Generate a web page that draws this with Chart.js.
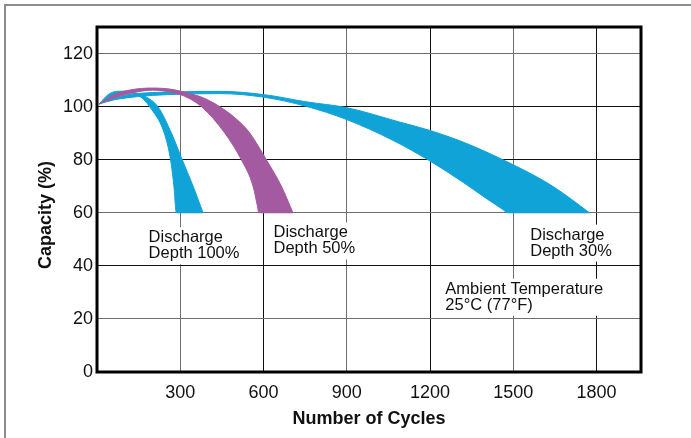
<!DOCTYPE html>
<html>
<head>
<meta charset="utf-8">
<script src="https://cdn.jsdelivr.net/npm/chart.js@4.4.0/dist/chart.umd.min.js"></script>
<style>
  html, body { margin: 0; padding: 0; background: #fff; }
  body { width: 691px; height: 438px; overflow: hidden; position: relative; }
  #frame { position: absolute; left: 4px; top: 4px; width: 900px; height: 900px; border: 2px solid #8c8c8c; }
  #wrap { position: absolute; left: 0; top: 0; width: 691px; height: 438px; }
</style>
</head>
<body>
<div id="frame"></div>
<div id="wrap"><canvas id="chart"></canvas></div>
<script>
// edges of each capacity band, [cycles, capacity %]
const dod100Outer = [[8, 101], [40, 104.5], [76, 105.8], [112, 105.8], [140, 105], [172, 103.9], [220, 99.9], [268, 90.1], [307, 80], [346, 70.1], [382, 60]]
const dod100Inner = [[8, 101], [50, 103.3], [90, 104.8], [120, 105.1], [154, 103.9], [190, 99.9], [242, 90.1], [265, 80], [277, 70.1], [286, 60]]

const dod50Outer = [[8, 101], [60, 104.5], [120, 106.3], [200, 107], [270, 106.5], [330, 105], [376, 103.6], [442, 100], [500, 95.5], [550, 90.1], [610, 80], [664, 70.1], [706, 60]]
const dod50Inner = [[8, 101], [60, 103.2], [120, 105], [200, 106.2], [260, 105.6], [316, 103.9], [376, 100], [460, 90.1], [520, 80], [562, 70.1], [577, 63], [583, 60]]

const dod30Outer = [[8, 101], [50, 103], [120, 104.6], [200, 105.3], [300, 105.6], [442, 105.75], [603, 104.5], [754, 101.8], [900, 99.6], [1090, 94.2], [1200, 91], [1320, 86.6], [1462, 80], [1620, 71.4], [1700, 65.8], [1774, 60]]
const dod30Inner = [[8, 101], [60, 102.5], [150, 103.8], [250, 104.5], [442, 104.9], [603, 103.5], [754, 100.1], [900, 95.1], [1066, 87.3], [1200, 79.5], [1320, 71.4], [1400, 65.6], [1460, 61.4], [1480, 60]]

const notes = [
  { lines: ["Discharge", "Depth 100%"], x: 186, y: 48.9 },
  { lines: ["Discharge", "Depth 50%"], x: 636, y: 50.7 },
  { lines: ["Discharge", "Depth 30%"], x: 1561, y: 49.9 },
  { lines: ["Ambient Temperature", "25°C (77°F)"], x: 1255, y: 29.5 },
]

const BLUE = "#0fa3d8"
const PURPLE = "#a35aa0"
const FONT = "'Liberation Sans', Arial, sans-serif"

function pts(arr) {
  return arr.map(function (p) { return { x: p[0], y: p[1] } })
}

function edge(data, color, fill) {
  return {
    data: pts(data),
    borderColor: color,
    backgroundColor: color,
    borderWidth: 1,
    pointRadius: 0,
    cubicInterpolationMode: "monotone",
    fill: fill,
  }
}

// the inner edge runs along the 60% floor to the end of the outer edge,
// so the filler has a target over the whole band
function band(inner, outer, color) {
  const last = outer[outer.length - 1]
  return [
    edge(inner.concat([[last[0], last[1]]]), color, false),
    edge(outer, color, "-1"),
  ]
}

const notesPlugin = {
  id: "notes",
  beforeDatasetsDraw(chart) {
    const ctx = chart.ctx
    const xs = chart.scales.x
    const ys = chart.scales.y
    ctx.save()
    ctx.font = "16.5px " + FONT
    ctx.textBaseline = "alphabetic"
    ctx.textAlign = "left"
    notes.forEach(function (n) {
      const px = xs.getPixelForValue(n.x)
      const py = ys.getPixelForValue(n.y)
      let w = 0
      n.lines.forEach(function (l) { w = Math.max(w, ctx.measureText(l).width) })
      ctx.fillStyle = "#fff"
      ctx.fillRect(px - 4, py - 15, w + 8, 16 * (n.lines.length - 1) + 21)
      ctx.fillStyle = "#111"
      n.lines.forEach(function (l, i) { ctx.fillText(l, px, py + i * 16) })
    })
    ctx.restore()
  },
  afterDatasetsDraw(chart) {
    const ctx = chart.ctx
    const a = chart.chartArea
    ctx.save()
    ctx.strokeStyle = "#000"
    ctx.lineWidth = 3
    ctx.strokeRect(a.left, a.top, a.right - a.left, a.bottom - a.top)
    // y axis title
    ctx.translate(46.5, 215)
    ctx.rotate(-Math.PI / 2)
    ctx.font = "bold 18px " + FONT
    ctx.fillStyle = "#111"
    ctx.textAlign = "center"
    ctx.textBaseline = "middle"
    ctx.fillText("Capacity (%)", 0, 0)
    ctx.restore()
  },
}

const darkX = [600, 1200, 1800]
const darkY = [40, 80, 100]

new Chart(document.getElementById("chart"), {
  type: "line",
  data: {
    datasets: []
      .concat(band(dod50Inner, dod50Outer, PURPLE))
      .concat(band(dod100Inner, dod100Outer, BLUE))
      .concat(band(dod30Inner, dod30Outer, BLUE)),
  },
  options: {
    responsive: true,
    maintainAspectRatio: false,
    animation: false,
    layout: { padding: { top: 27, right: 50, left: 0, bottom: 0 } },
    plugins: {
      legend: { display: false },
      tooltip: { enabled: false },
    },
    scales: {
      x: {
        type: "linear",
        min: 0,
        max: 1960,
        border: { display: false },
        grid: {
          drawTicks: false,
          lineWidth: 1,
          color: function (c) { return darkX.includes(c.tick.value) ? "#111" : "#6e6e6e" },
        },
        ticks: {
          stepSize: 300,
          includeBounds: false,
          padding: 10,
          color: "#111",
          font: { family: FONT, size: 18 },
          callback: function (v) { return v === 0 ? "" : v },
        },
        title: {
          display: true,
          text: "Number of Cycles",
          color: "#111",
          font: { family: FONT, size: 18, weight: "bold" },
          padding: { top: 0, bottom: 8 },
        },
        afterFit: function (s) { s.height = 66 },
      },
      y: {
        min: 0,
        max: 130,
        border: { display: false },
        grid: {
          drawTicks: false,
          lineWidth: 1,
          color: function (c) { return darkY.includes(c.tick.value) ? "#111" : "#6e6e6e" },
        },
        ticks: {
          stepSize: 20,
          includeBounds: false,
          padding: 4,
          color: "#111",
          font: { family: FONT, size: 18 },
        },
        afterFit: function (s) { s.width = 97 },
      },
    },
  },
  plugins: [notesPlugin],
})
</script>
</body>
</html>
